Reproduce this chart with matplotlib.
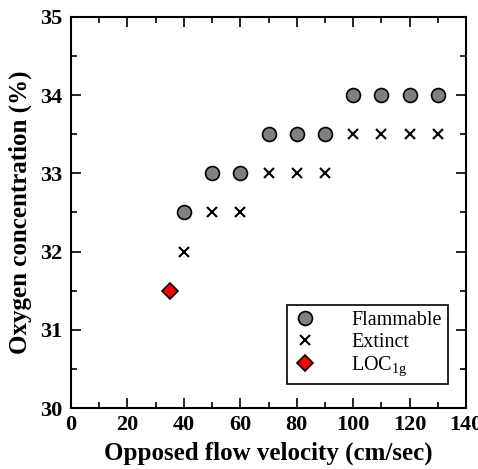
import numpy as np
import matplotlib
matplotlib.use("Agg")
import matplotlib.pyplot as plt
from matplotlib.ticker import MultipleLocator

# data
flam_v = [40, 50, 60, 70, 80, 90, 100, 110, 120, 130]
flam_o2 = [32.5, 33, 33, 33.5, 33.5, 33.5, 34, 34, 34, 34]
ext_v = [40, 50, 60, 70, 80, 90, 100, 110, 120, 130]
ext_o2 = [32, 32.5, 32.5, 33, 33, 33, 33.5, 33.5, 33.5, 33.5]
loc_v = [35]
loc_o2 = [31.5]

matplotlib.rcParams['font.family'] = 'Liberation Serif'
matplotlib.rcParams['mathtext.fontset'] = 'custom'
matplotlib.rcParams['mathtext.rm'] = 'Liberation Serif'
matplotlib.rcParams['xtick.direction'] = 'in'
matplotlib.rcParams['ytick.direction'] = 'in'

fig = plt.figure(figsize=(4.78, 4.69), dpi=100)
ax = fig.add_axes([0.1485, 0.13, 0.8265, 0.834])

ax.plot(flam_v, flam_o2, 'o', ms=10, mfc='gray', mec='black', mew=1.2, label='Flammable')
ax.plot(ext_v, ext_o2, 'x', ms=7, color='black', mew=1.5, label='Extinct')
ax.plot(loc_v, loc_o2, 'D', ms=8, mfc='red', mec='black', mew=1.2, label=r'LOC$_{\mathregular{1g}}$')

ax.set_xlim(0, 140)
ax.set_ylim(30, 35)
ax.xaxis.set_major_locator(MultipleLocator(20))
ax.xaxis.set_minor_locator(MultipleLocator(10))
ax.yaxis.set_major_locator(MultipleLocator(1))
ax.yaxis.set_minor_locator(MultipleLocator(0.5))
ax.tick_params(which='both', top=True, right=True, labelsize=16, width=1.2)
ax.tick_params(which='major', length=7)
ax.tick_params(which='minor', length=4)
ax.tick_params(axis='y', pad=6)
ax.tick_params(axis='x', pad=5)
for lab in ax.get_xticklabels() + ax.get_yticklabels():
    lab.set_fontweight('bold')
for s in ax.spines.values():
    s.set_linewidth(1.5)

ax.set_xlabel("Opposed flow velocity (cm/sec)", fontsize=18, fontweight='bold', labelpad=5)
ax.set_ylabel("Oxygen concentration (%)", fontsize=18, fontweight='bold', labelpad=6)

leg = ax.legend(loc='lower right', bbox_to_anchor=(0.954, 0.061), fontsize=14.5, fancybox=False,
                edgecolor='black', framealpha=1, handletextpad=1.7, borderpad=0.3,
                labelspacing=0.12, handlelength=1.2, borderaxespad=0)
leg.get_frame().set_linewidth(1.2)

plt.savefig("out.png", dpi=100)
